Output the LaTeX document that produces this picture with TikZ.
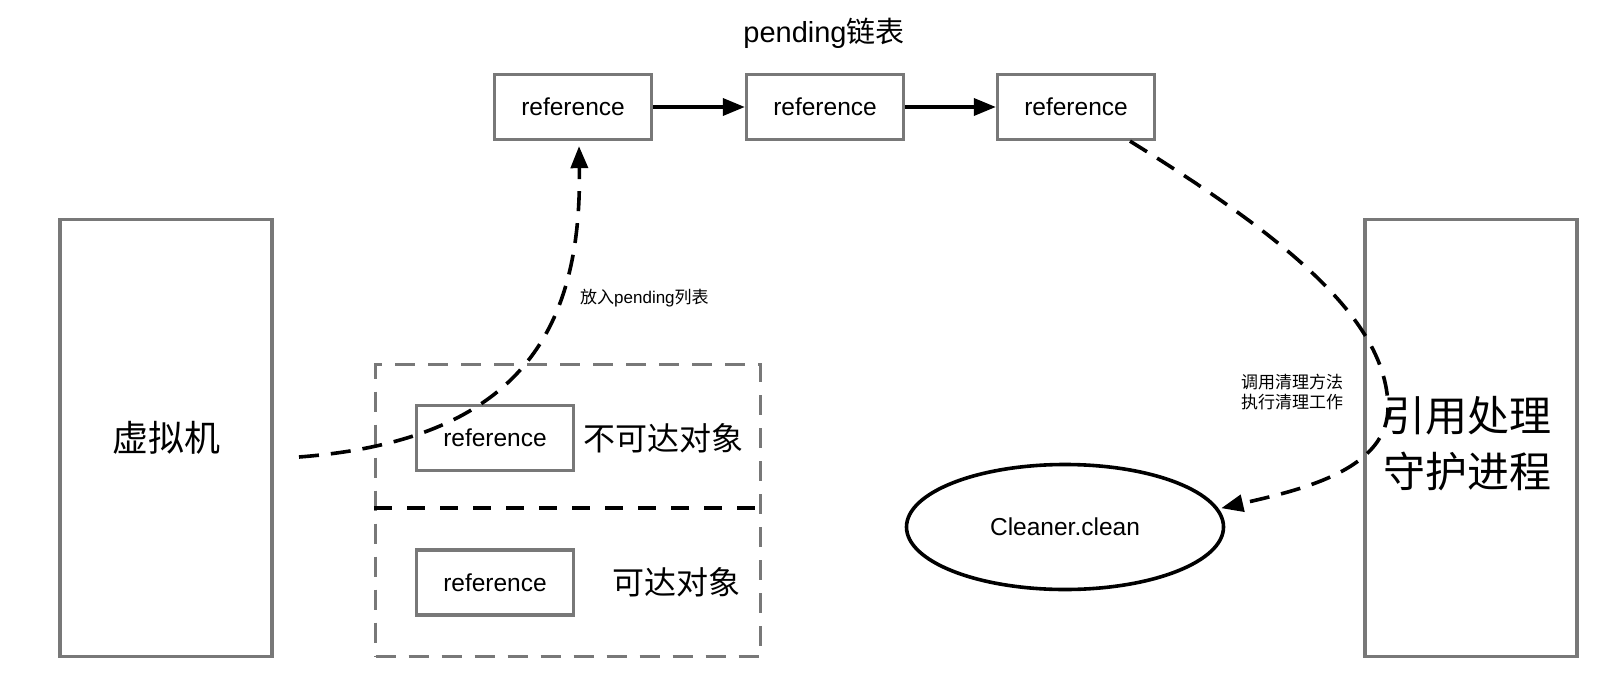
\documentclass[tikz,border=0pt]{standalone}
\usepackage{fontspec}
\setmainfont{Liberation Sans}
\newfontfamily\cjk{Noto Sans CJK SC}
\usetikzlibrary{arrows.meta,shapes.geometric,calc}
\definecolor{boxgray}{RGB}{120,120,120}
\begin{document}
\begin{tikzpicture}[x=1pt,y=-1pt,
  refbox/.style={draw=boxgray,line width=3.3pt,minimum width=157pt,minimum height=65pt,inner sep=0pt,font=\fontsize{24.5}{28}\selectfont},
  bigbox/.style={draw=boxgray,line width=3.3pt,minimum width=212pt,minimum height=437pt,inner sep=0pt,align=center},
  solidarrow/.style={line width=3.6pt,-{Triangle[length=22pt,width=17pt]}},
  dasharrow/.style={line width=3.6pt,dash pattern=on 20pt off 12pt,-{Triangle[length=22pt,width=17pt]}},
  smalllabel/.style={inner sep=0pt,font=\fontsize{17}{20}\selectfont,align=center},
]
\useasboundingbox (0,0) rectangle (1616,690);

% title
\node[inner sep=0pt,font=\fontsize{29}{32}\selectfont] (title) at (824,33) {pending{\cjk 链表}};

% pending list
\node[refbox] (r1) at (573,107) {reference};
\node[refbox] (r2) at (825,107) {reference};
\node[refbox] (r3) at (1076,107) {reference};
\draw[solidarrow] (r1) -- (r2);
\draw[solidarrow] (r2) -- (r3);

% big boxes
\node[bigbox,font=\cjk\fontsize{36}{40}\selectfont] (vm) at (166,438) {虚拟机};
\node[bigbox] (daemon) at (1471,438) {};
\node[inner sep=0pt,align=center,font=\cjk\fontsize{42}{56}\selectfont] (daemontext) at (1467,444) {引用处理\\守护进程};

% dashed container
\node[draw=boxgray,line width=3.3pt,dash pattern=on 20pt off 13pt,minimum width=385pt,minimum height=292pt,inner sep=0pt] (outer) at (568,510.5) {};
\coordinate (midL) at (374,508);
\coordinate (midR) at (762,508);
\draw[line width=3.6pt,dash pattern=on 18pt off 15pt] (midL) -- (midR);

\node[refbox] (u1) at (495,438) {reference};
\node[refbox] (u2) at (495,582.5) {reference};
\node[inner sep=0pt,font=\cjk\fontsize{32}{36}\selectfont] (unreach) at (663,438) {不可达对象};
\node[inner sep=0pt,font=\cjk\fontsize{32}{36}\selectfont] (reach) at (676,582) {可达对象};

% ellipse
\node[ellipse,draw=black,line width=3.6pt,minimum width=317pt,minimum height=125pt,inner sep=0pt,font=\fontsize{24.5}{28}\selectfont] (cl) at (1065,527) {Cleaner.clean};

% labels
\node[smalllabel,anchor=west] (lab1) at (580,298) {{\cjk 放入}pending{\cjk 列表}};
\node[smalllabel] (lab2) at (1292,392) {{\cjk 调用清理方法}\\{\cjk 执行清理工作}};

% dashed curves
\coordinate (s1) at (299,457);
\coordinate (e1) at ($(r1.south)+(6,5)$);
\draw[dasharrow] (s1) .. controls (520,440) and (582,330) .. (e1);

\coordinate (s2) at ($(r3.south)+(54,0)$);
\coordinate (m2) at (1388,405);
\coordinate (e2) at ($(cl.7)+(3,0)$);
\draw[dasharrow] (s2) .. controls (1290,240) and (1385,320) .. (m2) .. controls (1390,470) and (1300,490) .. (e2);
\end{tikzpicture}
\end{document}
